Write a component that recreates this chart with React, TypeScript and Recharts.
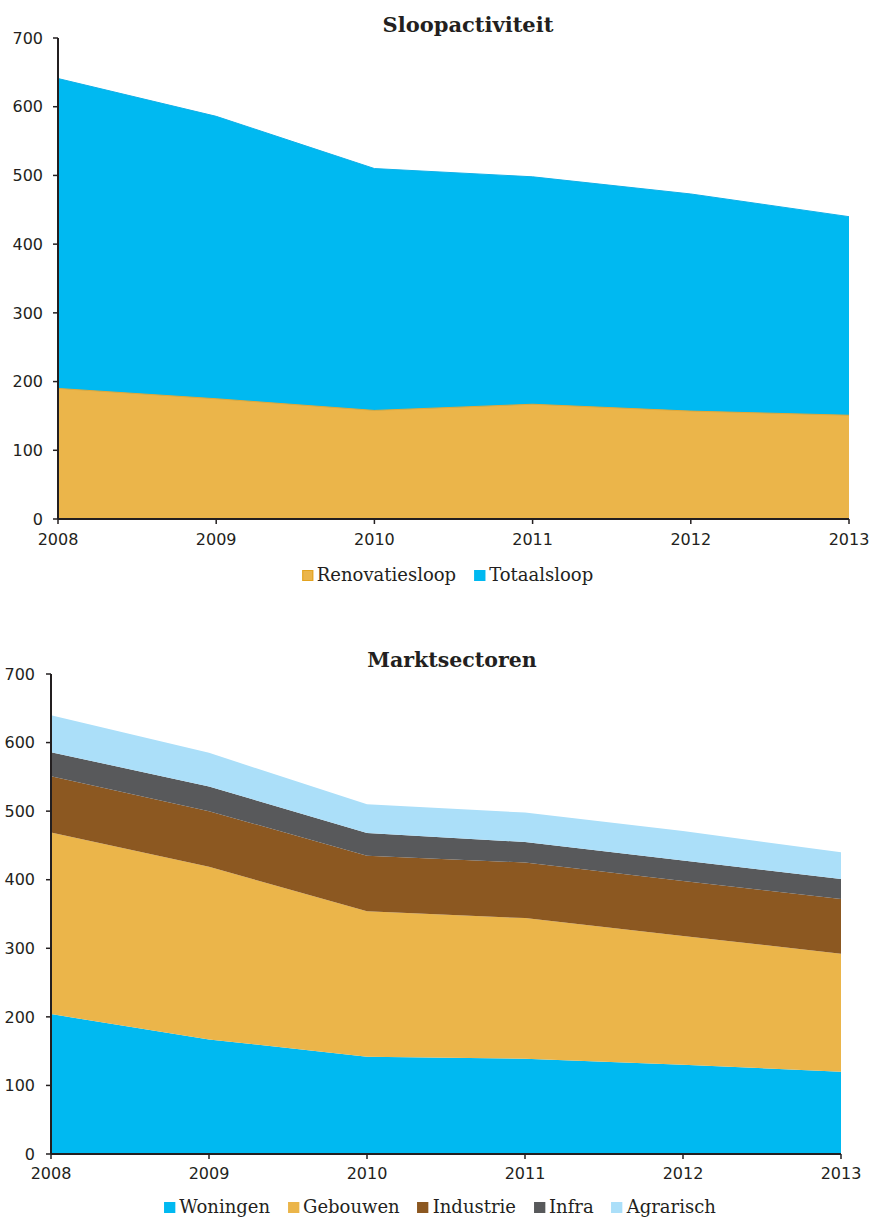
import { AreaChart, Area, XAxis, YAxis } from "recharts";

// years on the x axis (both charts)
const years = ["2008", "2009", "2010", "2011", "2012", "2013"];
const yTicks = [0, 100, 200, 300, 400, 500, 600, 700];

// Sloopactiviteit
const renovatiesloop = [190, 175, 158, 167, 157, 151];
const totaalsloop = [641, 586, 510, 498, 473, 440];

// Marktsectoren (stacked)
const woningen = [204, 167, 142, 139, 130, 120];
const gebouwen = [265, 252, 212, 205, 188, 172];
const industrie = [82, 81, 81, 81, 80, 80];
const infra = [35, 36, 33, 30, 30, 29];
const agrarisch = [54, 49, 42, 43, 43, 39];

const BLUE = "#00b9f1";
const ORANGE = "#ebb54a";
const BROWN = "#8c5821";
const GREY = "#58595b";
const LIGHTBLUE = "#abdff9";
const INK = "#231f20";

const sloopData = years.map((year, i) => ({
  year,
  Renovatiesloop: renovatiesloop[i],
  Totaalsloop: totaalsloop[i],
}));

const sectorData = years.map((year, i) => ({
  year,
  Woningen: woningen[i],
  Gebouwen: gebouwen[i],
  Industrie: industrie[i],
  Infra: infra[i],
  Agrarisch: agrarisch[i],
}));

const sloopLegend = [
  { name: "Renovatiesloop", color: ORANGE, border: "#e3a31f" },
  { name: "Totaalsloop", color: BLUE, border: BLUE },
];

const sectorSeries = [
  { name: "Woningen", color: BLUE },
  { name: "Gebouwen", color: ORANGE },
  { name: "Industrie", color: BROWN },
  { name: "Infra", color: GREY },
  { name: "Agrarisch", color: LIGHTBLUE },
];

const tickFont = { fontFamily: "DejaVu Sans", fontSize: 16, fill: INK };
const serif = "'DejaVu Serif', serif";

function Title({ text, cx, top, size }: { text: string; cx: number; top: number; size: number }) {
  return (
    <div
      style={{
        position: "absolute",
        left: cx,
        top,
        transform: "translateX(-50%)",
        fontFamily: serif,
        fontWeight: "bold",
        fontSize: size,
        lineHeight: `${size}px`,
        color: INK,
        whiteSpace: "nowrap",
      }}
    >
      {text}
    </div>
  );
}

function Legend({
  items,
  cx,
  top,
}: {
  items: { name: string; color: string; border?: string }[];
  cx: number;
  top: number;
}) {
  return (
    <div
      style={{
        position: "absolute",
        left: cx,
        top,
        transform: "translateX(-50%)",
        fontFamily: serif,
        fontSize: 18,
        lineHeight: "18px",
        color: INK,
        whiteSpace: "nowrap",
      }}
    >
      {items.map((it, i) => (
        <span key={it.name} style={{ marginLeft: i === 0 ? 0 : 18 }}>
          <span
            style={{
              display: "inline-block",
              width: 11,
              height: 11,
              boxSizing: "border-box",
              background: it.color,
              border: `1px solid ${it.border ?? it.color}`,
              marginRight: 4,
            }}
          />
          {it.name}
        </span>
      ))}
    </div>
  );
}

export default function App() {
  return (
    <div style={{ position: "absolute", left: 0, top: 0, width: 872, height: 1218, background: "#fff" }}>
      <div style={{ position: "absolute", left: 0, top: 0 }}>
        <AreaChart width={872} height={600} data={sloopData} margin={{ top: 38, right: 23, left: 8, bottom: 51 }}>
          <XAxis
            dataKey="year"
            interval={0}
            height={30}
            tick={tickFont}
            tickSize={5}
            tickMargin={10}
            axisLine={{ stroke: INK, strokeWidth: 2 }}
            tickLine={{ stroke: INK, strokeWidth: 1.5 }}
          />
          <YAxis
            type="number"
            domain={[0, 700]}
            ticks={yTicks}
            width={50}
            tick={tickFont}
            tickSize={5}
            tickMargin={10}
            axisLine={{ stroke: INK, strokeWidth: 2 }}
            tickLine={{ stroke: INK, strokeWidth: 1.5 }}
          />
          <Area
            type="linear"
            dataKey="Totaalsloop"
            fill={BLUE}
            fillOpacity={1}
            stroke="#10b0e8"
            strokeWidth={1}
            isAnimationActive={false}
          />
          <Area
            type="linear"
            dataKey="Renovatiesloop"
            fill={ORANGE}
            fillOpacity={1}
            stroke="#e3a838"
            strokeWidth={1}
            isAnimationActive={false}
          />
        </AreaChart>
      </div>
      <Title text="Sloopactiviteit" cx={468} top={13.5} size={21} />
      <Legend items={sloopLegend} cx={447.5} top={565.5} />

      <div style={{ position: "absolute", left: 0, top: 620 }}>
        <AreaChart width={872} height={598} data={sectorData} margin={{ top: 54, right: 31, left: 1, bottom: 34 }}>
          <XAxis
            dataKey="year"
            interval={0}
            height={30}
            tick={tickFont}
            tickSize={5}
            tickMargin={9}
            axisLine={{ stroke: INK, strokeWidth: 2 }}
            tickLine={{ stroke: INK, strokeWidth: 1.5 }}
          />
          <YAxis
            type="number"
            domain={[0, 700]}
            ticks={yTicks}
            width={50}
            tick={tickFont}
            tickSize={5}
            tickMargin={11}
            axisLine={{ stroke: INK, strokeWidth: 2 }}
            tickLine={{ stroke: INK, strokeWidth: 1.5 }}
          />
          {sectorSeries.map((s) => (
            <Area
              key={s.name}
              type="linear"
              dataKey={s.name}
              stackId="sector"
              fill={s.color}
              fillOpacity={1}
              stroke="none"
              isAnimationActive={false}
            />
          ))}
        </AreaChart>
      </div>
      <Title text="Marktsectoren" cx={452} top={650} size={20.5} />
      <Legend items={sectorSeries} cx={440} top={1198} />
    </div>
  );
}
